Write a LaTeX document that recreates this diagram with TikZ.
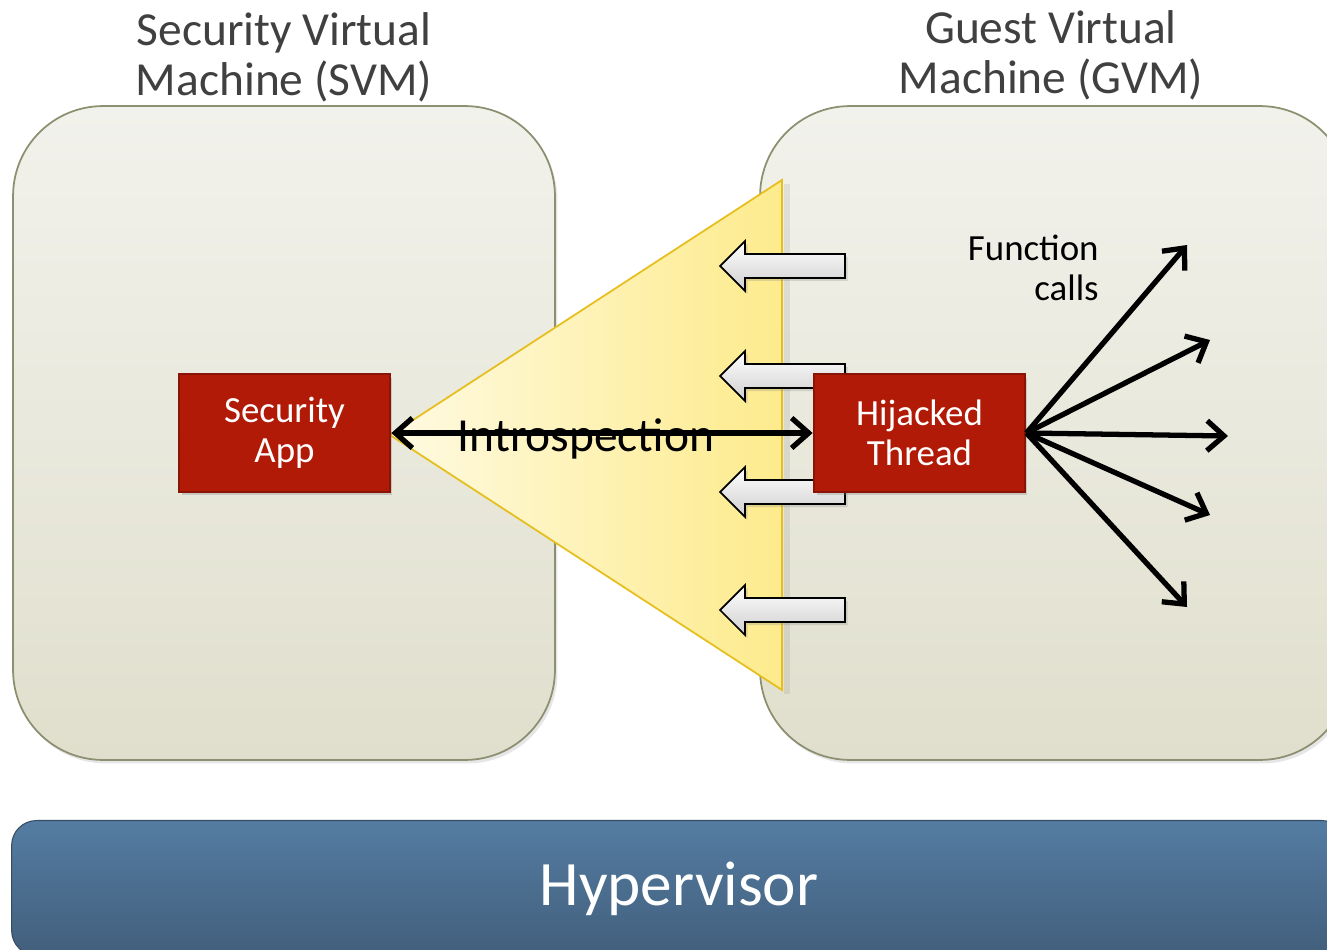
\documentclass[tikz,border=0pt]{standalone}
\usepackage{fontspec}
\setmainfont{Carlito}
\usetikzlibrary{arrows.meta,shadows,calc}
\definecolor{vmtop}{HTML}{F2F2EC}
\definecolor{vmbot}{HTML}{E0DFCD}
\definecolor{vmedge}{HTML}{8C9070}
\definecolor{appred}{HTML}{B11A06}
\definecolor{appedge}{HTML}{8A1405}
\definecolor{hvtop}{HTML}{547CA2}
\definecolor{hvbot}{HTML}{425F7C}
\definecolor{tri1}{HTML}{FFFAE2}
\definecolor{tri2}{HTML}{FDEB8C}
\definecolor{triedge}{HTML}{E6BE1E}
\definecolor{titlegray}{HTML}{404040}
\definecolor{arrgray}{HTML}{CFCFCF}
\tikzset{
  vmbox/.style={draw=vmedge, line width=1pt, rounded corners=1.8cm,
    top color=vmtop, bottom color=vmbot, minimum height=13.08cm,
    drop shadow={opacity=0.2, shadow xshift=0.05cm, shadow yshift=-0.07cm}},
  appbox/.style={draw=appedge, line width=1.6pt, fill=appred, text=white,
    minimum width=4.22cm, minimum height=2.36cm, align=center,
    font=\fontsize{21}{23}\selectfont,
    drop shadow={opacity=0.3, shadow xshift=0.05cm, shadow yshift=-0.07cm}},
  title/.style={text=titlegray, align=center, font=\fontsize{27}{28.5}\selectfont},
  barb/.tip={Straight Barb[length=3.4mm, width=6mm]},
  fan/.style={line width=3pt, -barb},
  dbl/.style={line width=3pt, barb-barb},
  harrow/.pic={
    \draw[black, line width=1pt, top color=white, bottom color=arrgray,
      drop shadow={opacity=0.25, shadow xshift=0.05cm, shadow yshift=-0.06cm}]
      (125,-12) -- (25,-12) -- (25,-25) -- (0,0) -- (25,25) -- (25,12) -- (125,12) -- cycle;
  }
}
\begin{document}
\begin{tikzpicture}[x=0.02cm, y=-0.02cm]
\useasboundingbox (0,0) rectangle (1327,949);
\clip (0,0) rectangle (1327,949);

% VM boxes
\node[vmbox, minimum width=10.84cm] (svm) at (284,433) {};
\node[vmbox, minimum width=11.8cm] (gvm) at (1055,433) {};

% titles
\node[title] (svmt) at (284,57) {Security Virtual\\Machine (SVM)};
\node[title] (gvmt) at (1051,55) {Guest Virtual\\Machine (GVM)};

% introspection cone
\coordinate (apex) at (390,435);
\coordinate (ctop) at (782,180);
\coordinate (cbot) at (782,690);
\fill[black, opacity=0.07] ($(ctop)+(2,4)$) -- ($(cbot)+(2,4)$) -- ($(cbot)+(8,4)$) -- ($(ctop)+(8,4)$) -- cycle;
\draw[triedge, line width=1pt, left color=tri1, right color=tri2] (apex) -- (ctop) -- (cbot) -- cycle;

% hollow arrows
\pic at (720,266) {harrow};
\pic at (720,376) {harrow};
\pic at (720,492) {harrow};
\pic at (720,610) {harrow};

% app boxes
\node[appbox] (sa) at (284.5,433) {\raisebox{-0.14cm}{\parbox{3.5cm}{\centering Security\\App}}};
\node[appbox] (ht) at (919.5,433) {\raisebox{-0.1cm}{\parbox{3.5cm}{\centering Hijacked\\Thread}}};

% introspection
\node[font=\fontsize{27}{30}\selectfont] (intro) at (586,439) {Introspection};
\draw[dbl] (sa.east) -- (ht.west);

% function calls
\node[anchor=east, align=right, inner sep=0pt, font=\fontsize{21}{23}\selectfont] (fc) at (1099,268) {Function\\calls};
\coordinate (f1) at (1187,245);
\coordinate (f2) at (1210,340);
\coordinate (f3) at (1228,436);
\coordinate (f4) at (1210,515);
\coordinate (f5) at (1187,607);
\foreach \t in {f1,f2,f3,f4,f5} \draw[fan] (ht.east) -- (\t);

% hypervisor
\node[draw=hvbot!80!black, line width=0.6pt, rounded corners=0.5cm, top color=hvtop, bottom color=hvbot,
  minimum width=26.7cm, minimum height=2.7cm,
  drop shadow={opacity=0.2, shadow xshift=0.05cm, shadow yshift=-0.07cm}] (hv) at (679,888) {};
\node[text=white, font=\fontsize{36}{40}\selectfont] (hvt) at (679,889) {Hypervisor};
\end{tikzpicture}
\end{document}
